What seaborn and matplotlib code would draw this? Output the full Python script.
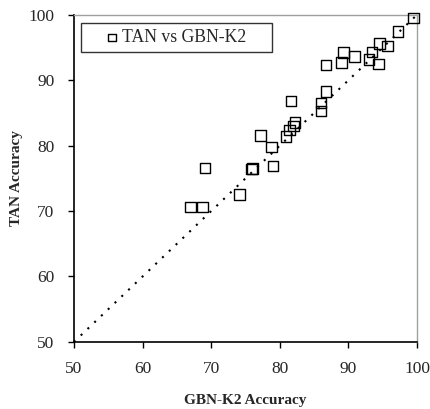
import numpy as np
import pandas as pd
import matplotlib
matplotlib.use("Agg")
import matplotlib.pyplot as plt
import seaborn as sns

# values
gbn_k2 = [99.5, 97.2, 94.5, 95.7, 93.4, 93.0, 94.4, 90.9, 89.3, 89.0,
          86.7, 86.7, 86.0, 86.0, 81.6, 82.2, 82.0, 81.4, 80.9, 77.2,
          78.8, 79.0, 76.0, 75.9, 69.1, 74.1, 67.0, 68.7]
tan = [99.5, 97.4, 95.6, 95.2, 94.3, 93.2, 92.5, 93.6, 94.2, 92.7,
       92.3, 88.3, 86.5, 85.3, 86.8, 83.5, 83.0, 82.4, 81.4, 81.5,
       79.8, 76.9, 76.5, 76.4, 76.6, 72.5, 70.6, 70.6]
diag = [50, 100]
ticks = [50, 60, 70, 80, 90, 100]

df = pd.DataFrame({"GBN-K2": gbn_k2, "TAN": tan})

sns.set_style("white")
plt.rcParams["font.family"] = ["Liberation Serif", "DejaVu Serif"]

fig = plt.figure(figsize=(4.3, 4.09), dpi=100)
ax = fig.add_axes([0.172, 0.164, 0.798, 0.8])

# y = x reference line
ax.plot(diag, diag, color="black", linestyle=(0, (1, 3.5)), linewidth=1.5)

sns.scatterplot(data=df, x="GBN-K2", y="TAN", ax=ax, marker="s", s=58,
                facecolor="none", edgecolor="black", linewidth=1.0,
                label="TAN vs GBN-K2", clip_on=False, zorder=3)

ax.set_xlim(50, 100)
ax.set_ylim(50, 100)
ax.set_xticks(ticks)
ax.set_yticks(ticks)
ax.tick_params(axis="both", direction="out", length=4, width=1, labelsize=12.5,
               color="black", bottom=True, left=True, pad=10)
ax.set_xlabel("GBN-K2 Accuracy", fontsize=11, fontweight="bold", labelpad=12)
ax.set_ylabel("TAN Accuracy", fontsize=11, fontweight="bold", labelpad=4)

for side in ["left", "bottom"]:
    ax.spines[side].set_color("black")
    ax.spines[side].set_linewidth(1.2)
for side in ["top", "right"]:
    ax.spines[side].set_color("#a0a0a0")
    ax.spines[side].set_linewidth(1.0)

leg = ax.legend(loc="upper left", bbox_to_anchor=(0.0204, 0.975, 0.557, 0.0),
                mode="expand", borderaxespad=0, fontsize=12.7,
                frameon=True, fancybox=False, edgecolor="black",
                handletextpad=-0.8, borderpad=0.35, handlelength=2.8,
                markerscale=0.7)
leg.get_frame().set_linewidth(1.0)

fig.savefig("out.png", dpi=100)
